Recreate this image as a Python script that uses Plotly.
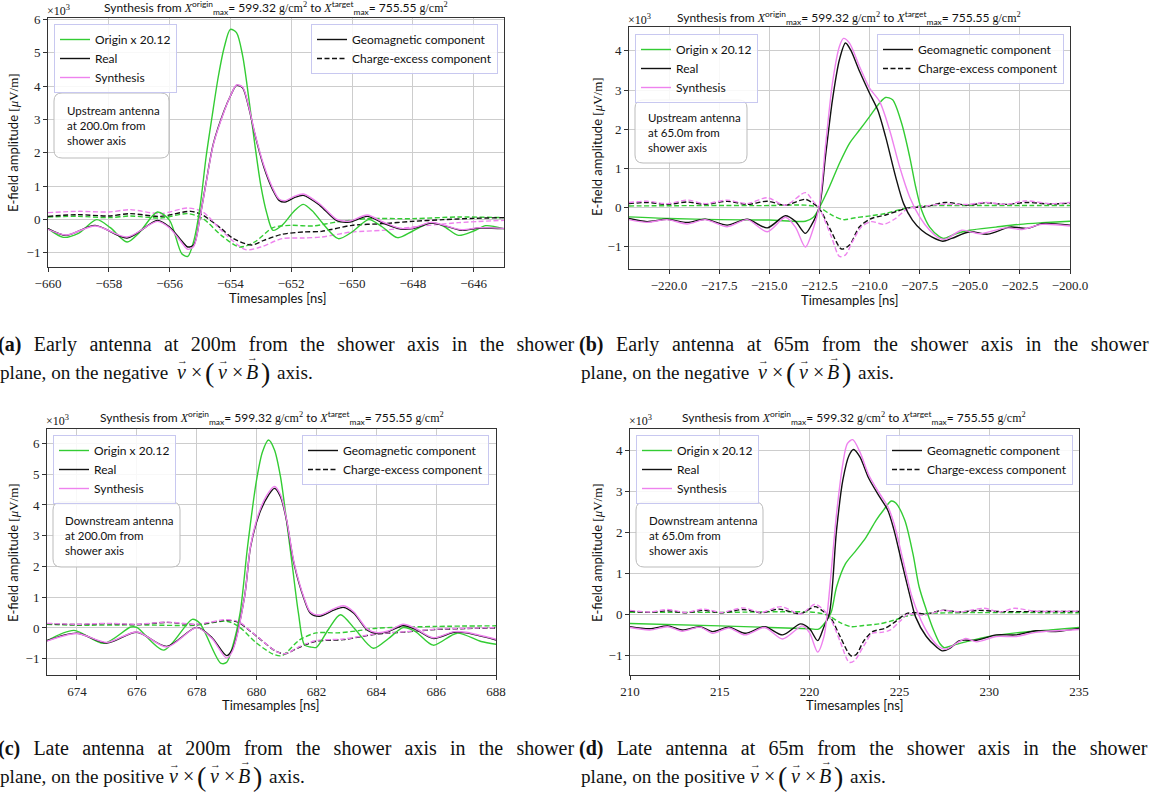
import plotly.graph_objects as go

W, H = 1153, 809

# ---------------- DATA (values in units of 10^3 uV/m, times in ns) ----------------
# Panel (a)
A_T_ORIGIN = [-660, -659.5, -659.0, -658.4, -657.95, -657.4, -657.0, -656.4, -656.0, -655.6, -655.4, -655.2, -655.0,
              -654.8, -654.6, -654.4, -654.2, -654.0, -653.8, -653.6, -653.4, -653.2, -653.0, -652.8, -652.6, -652.3,
              -651.9, -651.6, -651.3, -651.0, -650.45, -650.0, -649.45, -649.0, -648.5, -648.0, -647.4, -647.0,
              -646.5, -646.0, -645.6, -645.0]
A_V_ORIGIN = [-0.28, -0.54, -0.42, -0.01, -0.25, -0.68, -0.40, 0.22, -0.03, -1.03, -1.11, -0.63, 0.37,
              1.87, 3.1, 4.27, 5.17, 5.70, 5.60, 4.92, 3.67, 2.27, 1.02, 0.17, -0.33, -0.18,
              0.25, 0.45, 0.25, -0.08, -0.58, -0.38, -0.01, -0.23, -0.55, -0.35, -0.10, -0.20,
              -0.48, -0.35, -0.19, -0.28]
A_T_REAL = [-660, -659.4, -658.45, -657.4, -656.4, -656.0, -655.6, -655.4, -655.2, -655.0, -654.8, -654.56, -654.2,
            -654.0, -653.8, -653.6, -653.4, -653.2, -652.9, -652.6, -652.4, -652.2, -651.9, -651.6, -651.06, -650.5,
            -650.07, -649.5, -648.98, -648.4, -648.0, -647.4, -647.0, -646.4, -645.8, -645.0]
A_V_REAL = [-0.28, -0.48, -0.18, -0.56, -0.03, -0.23, -0.65, -0.83, -0.76, 0.07, 1.10, 2.27, 3.27,
            3.70, 4.02, 3.95, 3.37, 2.57, 1.57, 0.87, 0.57, 0.52, 0.65, 0.72, 0.42, -0.04,
            -0.08, 0.09, -0.11, -0.29, -0.28, -0.11, -0.18, -0.33, -0.26, -0.28]
A_V_SYNTH = [-0.30, -0.47, -0.20, -0.53, -0.06, -0.26, -0.70, -0.90, -0.80, 0.05, 1.08, 2.25, 3.25,
             3.70, 4.03, 3.97, 3.40, 2.60, 1.62, 0.92, 0.61, 0.56, 0.69, 0.76, 0.46, 0.00,
             -0.05, 0.13, -0.08, -0.27, -0.26, -0.09, -0.17, -0.31, -0.25, -0.27]
A_T_GEO_CE = [-660, -659, -658, -657.3, -656.3, -655.3, -654.9, -654.3, -653.9, -653.3, -652.9, -652.3, -651.6,
              -651.0, -650.0, -649.0, -648.0, -647.0, -646.0, -645.0]
A_V_REAL_CE = [0.09, 0.14, 0.10, 0.17, 0.09, 0.24, 0.12, -0.28, -0.58, -0.77, -0.63, -0.45, -0.38,
               -0.36, -0.18, -0.13, -0.06, -0.01, 0.03, 0.05]
A_T_ORIGIN_CE = [-660, -659, -658, -657.3, -656.3, -655.4, -654.9, -654.3, -653.7, -653.2, -652.6, -652.0, -651.3,
                 -650.5, -649.5, -648.0, -646.5, -645.0]
A_V_ORIGIN_CE = [0.07, 0.09, 0.05, 0.10, 0.04, 0.17, 0.02, -0.48, -0.83, -0.68, -0.25, -0.18, -0.20,
                 -0.08, 0.02, 0.02, 0.07, 0.05]
A_T_SYNTH_CE = [-660, -659, -658, -657.3, -656.3, -655.4, -654.9, -654.3, -653.5, -653.0, -652.3, -651.6, -651.0,
                -650.0, -649.0, -648.0, -646.5, -645.0]
A_V_SYNTH_CE = [0.20, 0.24, 0.22, 0.29, 0.17, 0.34, 0.22, -0.33, -0.91, -0.83, -0.58, -0.56, -0.53,
                -0.38, -0.33, -0.23, -0.10, -0.03]

# Panel (b)
B_T_ORIGIN = [-222, -220, -217.5, -215, -213.2, -212.8, -212.5, -212.0, -211.5, -211.0, -210.5, -210.0, -209.5,
              -209.2, -208.85, -208.4, -208.0, -207.7, -207.4, -207.0, -206.5, -206.3, -205.7, -205.0, -203.7,
              -202.5, -201.4, -200]
B_V_ORIGIN = [-0.24, -0.28, -0.31, -0.32, -0.35, -0.25, 0.0, 0.53, 1.13, 1.64, 1.98, 2.32, 2.67,
              2.81, 2.75, 2.15, 1.30, 0.53, -0.07, -0.50, -0.75, -0.79, -0.67, -0.58, -0.50,
              -0.43, -0.39, -0.35]
B_T_REAL = [-222, -221.1, -220.1, -219.1, -218.2, -217.1, -216.1, -215.1, -214.2, -213.7, -213.2, -212.9, -212.5,
            -212.2, -211.85, -211.5, -211.2, -210.95, -210.5, -210.0, -209.6, -209.2, -208.7, -208.3, -207.86,
            -207.4, -206.9, -206.35, -205.9, -205.0, -204.1, -203.0, -202.1, -201.4, -200]
B_V_REAL = [-0.28, -0.36, -0.30, -0.38, -0.30, -0.45, -0.30, -0.52, -0.21, -0.35, -0.66, -0.45, 0.02,
            1.30, 2.75, 3.78, 4.20, 4.03, 3.48, 2.92, 2.50, 1.81, 0.79, 0.10, -0.32,
            -0.58, -0.75, -0.86, -0.79, -0.62, -0.68, -0.50, -0.53, -0.41, -0.45]
B_T_SYNTH = [-222, -221.1, -220.1, -219.1, -218.2, -217.1, -216.1, -215.1, -214.2, -213.7, -213.2, -212.8, -212.5,
             -212.2, -211.85, -211.5, -211.3, -211.0, -210.5, -210.0, -209.5, -209.0, -208.5, -208.0, -207.5,
             -207.0, -206.5, -206.2, -205.4, -204.5, -203.2, -202.4, -201.4, -200]
B_V_SYNTH = [-0.31, -0.38, -0.31, -0.42, -0.31, -0.49, -0.31, -0.62, -0.25, -0.50, -1.01, -0.53, 0.06,
             1.56, 3.18, 4.12, 4.32, 4.20, 3.60, 3.05, 2.71, 1.98, 1.04, 0.27, -0.24,
             -0.58, -0.79, -0.81, -0.58, -0.67, -0.52, -0.56, -0.43, -0.47]
B_T_REAL_CE = [-222, -221.1, -220.1, -219.1, -218.2, -217.1, -216.1, -215.1, -214.2, -213.2, -212.8, -212.5, -211.9,
               -211.4, -211.0, -210.5, -209.9, -209.2, -208.6, -208.1, -207.2, -206.2, -205.1, -204.2, -203.2,
               -202.2, -201.0, -200]
B_V_REAL_CE = [0.10, 0.13, 0.08, 0.14, 0.08, 0.16, 0.08, 0.16, 0.06, 0.21, 0.10, -0.03, -0.62,
               -1.06, -0.96, -0.49, -0.28, -0.19, -0.09, -0.01, 0.02, 0.13, 0.06, 0.12, 0.08,
               0.13, 0.09, 0.11]
B_T_SYNTH_CE = [-222, -221.1, -220.1, -219.1, -218.2, -217.1, -216.1, -215.1, -214.2, -213.2, -212.8, -212.5, -211.9,
                -211.5, -211.2, -210.85, -210.4, -209.9, -209.3, -208.7, -208.1, -207.2, -206.5, -205.1, -204.2,
                -203.2, -202.2, -201.0, -200]
B_V_SYNTH_CE = [0.13, 0.16, 0.10, 0.19, 0.10, 0.19, 0.10, 0.25, 0.06, 0.38, 0.15, -0.03, -0.75,
                -1.25, -1.21, -0.87, -0.49, -0.36, -0.43, -0.28, -0.03, 0.04, 0.08, 0.08, 0.13,
                0.08, 0.17, 0.10, 0.13]
B_T_ORIGIN_CE = [-222, -218, -215, -213.2, -212.5, -211.9, -211.3, -210.7, -209.9, -209.2, -208.3, -207.4, -205,
                 -202, -200]
B_V_ORIGIN_CE = [0.04, 0.05, 0.05, 0.06, 0.0, -0.19, -0.31, -0.26, -0.21, -0.15, -0.03, 0.04, 0.05,
                 0.05, 0.05]

# Panel (c)
C_T_ORIGIN = [673, 673.9, 674.9, 675.8, 676.0, 676.9, 677.85, 678.1, 678.8, 679.0, 679.2, 679.45, 679.7, 680.0,
              680.2, 680.4, 680.6, 680.8, 681.0, 681.2, 681.4, 681.6, 681.8, 682.0, 682.4, 682.8, 683.3, 683.9,
              684.4, 684.9, 685.3, 685.9, 686.7, 687.5, 688]
C_V_ORIGIN = [-0.42, -0.08, -0.50, 0.03, 0.02, -0.72, 0.28, 0.16, -1.14, -1.12, -0.60, 0.48, 2.64, 4.81,
              5.73, 6.11, 5.79, 4.92, 3.51, 1.99, 0.48, -0.55, -0.62, -0.63, -0.05, 0.43, -0.05, -0.66,
              -0.35, 0.01, -0.11, -0.56, -0.17, -0.44, -0.53]
C_T_REAL = [673, 674, 675, 676, 677, 678, 678.5, 679.0, 679.2, 679.6, 679.8, 680.1, 680.4, 680.6, 680.8, 681.0,
            681.25, 681.6, 681.8, 682.1, 682.6, 682.9, 683.25, 683.7, 684.0, 684.4, 684.9, 685.3, 685.9, 686.6,
            687.0, 688]
C_V_REAL = [-0.41, -0.17, -0.49, -0.14, -0.60, 0.02, -0.30, -0.90, -0.68, 1.02, 2.64, 3.73, 4.32, 4.54, 4.27, 3.51,
            2.10, 0.91, 0.48, 0.38, 0.59, 0.67, 0.48, -0.07, -0.17, -0.12, 0.08, -0.04, -0.34, -0.14,
            -0.16, -0.39]
C_V_SYNTH = [-0.43, -0.18, -0.47, -0.13, -0.62, 0.01, -0.33, -0.98, -0.74, 1.00, 2.66, 3.80, 4.40, 4.60, 4.33, 3.55,
             2.15, 0.95, 0.52, 0.42, 0.63, 0.72, 0.52, -0.04, -0.15, -0.10, 0.12, -0.01, -0.32, -0.12,
             -0.14, -0.37]
C_T_GEO_CE = [673, 674, 675, 676, 677, 678, 679, 679.4, 680, 680.65, 680.95, 681.45, 682, 682.9, 684, 685, 686,
              687, 688]
C_V_REAL_CE = [0.14, 0.11, 0.14, 0.11, 0.18, 0.11, 0.25, 0.18, -0.27, -0.76, -0.84, -0.62, -0.43, -0.38, -0.20,
               -0.13, -0.05, -0.02, 0.0]
C_V_SYNTH_CE = [0.15, 0.12, 0.15, 0.12, 0.19, 0.12, 0.27, 0.20, -0.26, -0.76, -0.84, -0.60, -0.41, -0.36, -0.19,
                -0.12, -0.04, -0.01, 0.01]
C_T_ORIGIN_CE = [673, 674, 676, 678, 679, 679.4, 680, 680.55, 680.85, 681.45, 682, 682.7, 683.4, 684, 686, 688]
C_V_ORIGIN_CE = [0.12, 0.09, 0.10, 0.09, 0.22, 0.05, -0.49, -0.85, -0.90, -0.38, -0.16, -0.16, -0.09, -0.01,
                 0.05, 0.07]

# Panel (d)
D_T_ORIGIN = [210, 215, 220, 220.5, 220.9, 221.2, 221.5, 222.0, 222.6, 223.15, 223.7, 224.1, 224.55, 224.8, 225.3,
              225.75, 226.1, 226.5, 226.9, 227.25, 227.5, 228.0, 228.7, 230.0, 231.7, 233.4, 235]
D_V_ORIGIN = [-0.22, -0.28, -0.35, -0.36, -0.18, 0.05, 0.67, 1.24, 1.57, 1.89, 2.30, 2.54, 2.77, 2.72, 2.30,
              1.49, 0.67, 0.11, -0.38, -0.71, -0.81, -0.75, -0.67, -0.54, -0.44, -0.38, -0.32]
D_T_REAL = [210, 211.1, 212.1, 212.9, 213.9, 214.6, 215.5, 216.4, 217.5, 218.5, 219.5, 220.0, 220.45, 220.8, 221.1,
            221.5, 221.85, 222.2, 222.45, 222.8, 223.3, 223.9, 224.36, 224.7, 225.1, 225.6, 225.9, 226.5, 227.05,
            227.4, 227.8, 228.35, 229.3, 230.4, 231.5, 232.6, 233.7, 235]
D_V_REAL = [-0.30, -0.35, -0.28, -0.38, -0.30, -0.42, -0.31, -0.46, -0.30, -0.50, -0.23, -0.35, -0.64, -0.30, 0.02,
            2.06, 3.28, 3.89, 4.03, 3.85, 3.32, 2.87, 2.54, 2.06, 1.33, 0.43, -0.06, -0.54, -0.79,
            -0.89, -0.83, -0.64, -0.63, -0.50, -0.50, -0.40, -0.42, -0.34]
D_T_SYNTH = [210, 211.1, 212.1, 212.9, 213.9, 214.6, 215.5, 216.4, 217.5, 218.5, 219.6, 220.0, 220.45, 220.8, 221.0,
             221.5, 221.85, 222.1, 222.4, 222.8, 223.3, 223.9, 224.36, 224.7, 225.2, 225.7, 226.2, 226.7, 227.2,
             227.6, 228.2, 228.7, 229.3, 230.4, 231.5, 232.6, 235]
D_V_SYNTH = [-0.32, -0.38, -0.30, -0.41, -0.31, -0.46, -0.33, -0.50, -0.32, -0.60, -0.28, -0.45, -0.92, -0.54, 0.10,
             2.46, 3.68, 4.17, 4.27, 3.97, 3.40, 2.95, 2.63, 2.22, 1.33, 0.43, -0.14, -0.54, -0.79,
             -0.85, -0.70, -0.59, -0.67, -0.54, -0.54, -0.44, -0.37]
D_T_REAL_CE = [210, 211.1, 212.1, 213.1, 214.1, 215.1, 216.3, 217.3, 218.3, 219.5, 220.3, 220.8, 221.2, 221.7,
               222.3, 222.6, 223.0, 223.5, 224.2, 224.7, 225.4, 225.9, 226.5, 227.4, 228.4, 229.4, 230.6, 232.5, 235]
D_V_REAL_CE = [0.08, 0.05, 0.09, 0.04, 0.10, 0.04, 0.12, 0.04, 0.13, 0.02, 0.19, 0.06, -0.10, -0.54,
               -1.01, -0.98, -0.66, -0.42, -0.34, -0.20, 0.02, 0.04, 0.01, 0.10, 0.06, 0.10, 0.07, 0.07, 0.07]
D_T_SYNTH_CE = [210, 211.1, 212.1, 213.1, 214.1, 215.1, 216.3, 217.3, 218.4, 219.5, 220.3, 220.8, 221.2, 221.7,
                222.2, 222.5, 223.0, 223.5, 224.0, 224.5, 225.0, 225.5, 226.4, 227.4, 228.4, 229.7, 230.6, 231.4,
                232.5, 235]
D_V_SYNTH_CE = [0.10, 0.06, 0.12, 0.05, 0.13, 0.05, 0.16, 0.05, 0.19, 0.01, 0.25, 0.10, -0.14, -0.66,
                -1.17, -1.13, -0.78, -0.46, -0.44, -0.38, -0.18, 0.01, -0.02, 0.10, 0.06, 0.15, 0.06, 0.15,
                0.08, 0.08]
D_T_ORIGIN_CE = [210, 215, 220.3, 221.0, 221.7, 222.3, 223.0, 223.9, 224.7, 225.4, 226.4, 228, 235]
D_V_ORIGIN_CE = [0.05, 0.05, 0.05, -0.02, -0.20, -0.30, -0.27, -0.23, -0.14, -0.04, 0.02, 0.04, 0.04]

# Labels
LEGEND_LEFT = ["Origin x 20.12", "Real", "Synthesis"]
LEGEND_RIGHT = ["Geomagnetic component", "Charge-excess component"]
INFO = ["Upstream antenna<br>at 200.0m from<br>shower axis",
        "Upstream antenna<br>at 65.0m from<br>shower axis",
        "Downstream antenna<br>at 200.0m from<br>shower axis",
        "Downstream antenna<br>at 65.0m from<br>shower axis"]
CAPTIONS = [("(a)", "Early antenna at 200m from the shower axis in the shower", "negative"),
            ("(b)", "Early antenna at 65m from the shower axis in the shower", "negative"),
            ("(c)", "Late antenna at 200m from the shower axis in the shower", "positive"),
            ("(d)", "Late antenna at 65m from the shower axis in the shower", "positive")]

# ---------------- STYLE / LAYOUT ----------------
GREEN = "#33cc33"
BLACK = "#111111"
VIOLET = "#ee82ee"
SANS = "Lato"
SERIF = "Liberation Serif"
DASH = "5px,2.5px"

panels = [
    dict(series=[(A_T_ORIGIN, A_V_ORIGIN, GREEN, "solid"), (A_T_REAL, A_V_REAL, BLACK, "solid"),
                 (A_T_REAL, A_V_SYNTH, VIOLET, "solid"),
                 (A_T_ORIGIN_CE, A_V_ORIGIN_CE, GREEN, DASH), (A_T_GEO_CE, A_V_REAL_CE, BLACK, DASH),
                 (A_T_SYNTH_CE, A_V_SYNTH_CE, VIOLET, DASH)],
         box=(48, 504, 18, 267), xr=[-660, -645], yr=[-1.43, 6.04], tick0=-660, dtick=2, fmt="d",
         yt=list(range(-1, 7)), legL=(54, 24), legR=(498, 24), info=(54, 93, 169, 158), infotxt=(66, 103),
         x10=(46, 10), title=(276, 8), xlab=(277, 298), ylab=(13, 143)),
    dict(series=[(B_T_ORIGIN, B_V_ORIGIN, GREEN, "solid"), (B_T_REAL, B_V_REAL, BLACK, "solid"),
                 (B_T_SYNTH, B_V_SYNTH, VIOLET, "solid"),
                 (B_T_ORIGIN_CE, B_V_ORIGIN_CE, GREEN, DASH), (B_T_REAL_CE, B_V_REAL_CE, BLACK, DASH),
                 (B_T_SYNTH_CE, B_V_SYNTH_CE, VIOLET, DASH)],
         box=(629, 1070, 27, 269), xr=[-222, -200], yr=[-1.57, 4.61], tick0=-220, dtick=2.5, fmt=".1f",
         yt=list(range(-1, 5)), legL=(635, 34), legR=(1064, 34), info=(635, 100, 747, 163), infotxt=(647, 110),
         x10=(627, 20), title=(849, 18), xlab=(849, 300), ylab=(597, 147)),
    dict(series=[(C_T_ORIGIN, C_V_ORIGIN, GREEN, "solid"), (C_T_REAL, C_V_REAL, BLACK, "solid"),
                 (C_T_REAL, C_V_SYNTH, VIOLET, "solid"),
                 (C_T_ORIGIN_CE, C_V_ORIGIN_CE, GREEN, DASH), (C_T_GEO_CE, C_V_REAL_CE, BLACK, DASH),
                 (C_T_GEO_CE, C_V_SYNTH_CE, VIOLET, DASH)],
         box=(47, 496, 429, 675), xr=[673, 688], yr=[-1.53, 6.47], tick0=674, dtick=2, fmt="d",
         yt=list(range(-1, 7)), legL=(53, 435), legR=(489, 435), info=(53, 502, 180, 567), infotxt=(64, 513),
         x10=(45, 420), title=(272, 418), xlab=(270, 705), ylab=(13, 553)),
    dict(series=[(D_T_ORIGIN, D_V_ORIGIN, GREEN, "solid"), (D_T_REAL, D_V_REAL, BLACK, "solid"),
                 (D_T_SYNTH, D_V_SYNTH, VIOLET, "solid"),
                 (D_T_ORIGIN_CE, D_V_ORIGIN_CE, GREEN, DASH), (D_T_REAL_CE, D_V_REAL_CE, BLACK, DASH),
                 (D_T_SYNTH_CE, D_V_SYNTH_CE, VIOLET, DASH)],
         box=(630, 1079, 429, 675), xr=[210, 235], yr=[-1.48, 4.53], tick0=210, dtick=5, fmt="d",
         yt=list(range(-1, 5)), legL=(636, 435), legR=(1073, 435), info=(636, 502, 763, 567), infotxt=(648, 513),
         x10=(628, 420), title=(854, 418), xlab=(854, 705), ylab=(597, 553)),
]


def PX(px):
    return px / W


def PY(py):
    return 1 - py / H


def rrect(x0, y0, x1, y1, r=8):
    return (f"M {PX(x0 + r)},{PY(y0)} L {PX(x1 - r)},{PY(y0)} Q {PX(x1)},{PY(y0)} {PX(x1)},{PY(y0 + r)} "
            f"L {PX(x1)},{PY(y1 - r)} Q {PX(x1)},{PY(y1)} {PX(x1 - r)},{PY(y1)} "
            f"L {PX(x0 + r)},{PY(y1)} Q {PX(x0)},{PY(y1)} {PX(x0)},{PY(y1 - r)} "
            f"L {PX(x0)},{PY(y0 + r)} Q {PX(x0)},{PY(y0)} {PX(x0 + r)},{PY(y0)} Z")


SER = "<span style='font-family:Liberation Serif'>"
TITLE = ("Synthesis from " + SER + "<i>X</i></span><sup>origin</sup><sub>max</sub>= 599.32 " + SER +
         "g/cm<sup>2</sup></span> to " + SER + "<i>X</i></span><sup>target</sup><sub>max</sub>= 755.55 " + SER +
         "g/cm<sup>2</sup></span>")

fig = go.Figure()
annotations = []
shapes = []
layout = dict(template="none", width=W, height=H,
              margin=dict(l=0, r=0, t=0, b=0, pad=0, autoexpand=False),
              paper_bgcolor="white", plot_bgcolor="white", showlegend=True)


def ann(text, px, py, size, family=SANS, xanchor="left", yanchor="middle", **kw):
    d = dict(text=text, x=PX(px), y=PY(py), xref="paper", yref="paper", xanchor=xanchor, yanchor=yanchor,
             showarrow=False, font=dict(family=family, size=size, color="#111111"), borderpad=0)
    d.update(kw)
    annotations.append(d)


for i, p in enumerate(panels):
    n = i + 1
    xa = "x" if n == 1 else f"x{n}"
    ya = "y" if n == 1 else f"y{n}"
    legL = "legend" if n == 1 else f"legend{2 * n - 1}"
    legR = f"legend{2 * n}"
    order = [3, 4, 5, 0, 1, 2]
    for k in order:
        t, v, col, dash = p["series"][k]
        fig.add_trace(go.Scatter(x=t, y=v, mode="lines", xaxis=xa, yaxis=ya, showlegend=False,
                                 line=dict(color=col, width=1.4, dash=dash, shape="spline", smoothing=0.8),
                                 hoverinfo="skip"))
    for name, col in zip(LEGEND_LEFT, [GREEN, BLACK, VIOLET]):
        fig.add_trace(go.Scatter(x=[None], y=[None], mode="lines", xaxis=xa, yaxis=ya, name=name,
                                 legend=legL, line=dict(color=col, width=1.4)))
    for name, dash in zip(LEGEND_RIGHT, ["solid", DASH]):
        fig.add_trace(go.Scatter(x=[None], y=[None], mode="lines", xaxis=xa, yaxis=ya, name=name,
                                 legend=legR, line=dict(color=BLACK, width=1.4, dash=dash)))

    x0, x1, y0, y1 = p["box"]
    axis_common = dict(showline=True, mirror=True, linecolor="#333333", linewidth=1, ticks="outside",
                       ticklen=4, tickcolor="#333333", showgrid=True, gridcolor="#cdcdcd", gridwidth=1,
                       zeroline=False, automargin=False,
                       tickfont=dict(family=SERIF, size=13, color="#222222"))
    layout["xaxis" if n == 1 else f"xaxis{n}"] = dict(
        axis_common, domain=[PX(x0), PX(x1)], range=p["xr"], anchor=ya, tickmode="linear",
        tick0=p["tick0"], dtick=p["dtick"], tickformat=p["fmt"])
    layout["yaxis" if n == 1 else f"yaxis{n}"] = dict(
        axis_common, domain=[PY(y1), PY(y0)], range=p["yr"], anchor=xa, tickmode="array",
        tickvals=p["yt"], ticktext=[str(v) if v >= 0 else "\u2212" + str(-v) for v in p["yt"]])

    leg_common = dict(bgcolor="rgba(255,255,255,0.85)", bordercolor="#c8c8f0", borderwidth=1,
                      font=dict(family=SANS, size=12, color="#111111"), itemwidth=30, tracegroupgap=0,
                      xref="paper", yref="paper", yanchor="top", traceorder="normal")
    layout[legL] = dict(leg_common, x=PX(p["legL"][0]), y=PY(p["legL"][1]), xanchor="left")
    layout[legR] = dict(leg_common, x=PX(p["legR"][0]), y=PY(p["legR"][1]), xanchor="right")

    bx0, by0, bx1, by1 = p["info"]
    shapes.append(dict(type="path", xref="paper", yref="paper", path=rrect(bx0, by0, bx1, by1),
                       line=dict(color="#bbbbbb", width=1), fillcolor="rgba(255,255,255,0.85)", layer="above"))
    ann(INFO[i], p["infotxt"][0], p["infotxt"][1], 11.5, yanchor="top", align="left")
    ann(SER + "×10<sup>3</sup></span>", p["x10"][0], p["x10"][1], 12, family=SERIF)
    ann(TITLE, p["title"][0], p["title"][1], 12, xanchor="center")
    ann("Timesamples [ns]", p["xlab"][0], p["xlab"][1], 13, xanchor="center")
    ann("E-field amplitude " + SER + "[<i>μ</i>V/m]</span>", p["ylab"][0], p["ylab"][1], 13,
        xanchor="center", textangle=-90)

# Captions (first line justified by wider word spacing, second line with vector math)
cap_pos = [(-3, 344), (578, 344), (-3, 748), (578, 748)]
word_gap = [7.4, 7.6, 8.2, 8.2]
MATH = [("<i>v</i>", 184, True), ("×", 199, False), ("(", 212, False), ("<i>v</i>", 225, True),
        ("×", 240, False), ("<i>B</i>", 255, True), (")", 268, False)]
for (lab, line1, sign), (cx, cy), gap in zip(CAPTIONS, cap_pos, word_gap):
    ann(f"<span style='word-spacing:{gap}px'><b>{lab}</b> {line1}</span>", cx, cy, 20, family=SERIF)
    ly = cy + 28
    shift = 0 if sign == "negative" else -8
    ann(f"plane, on the {sign}", cx + 2, ly, 19.2, family=SERIF)
    for g, dx, arrow in MATH:
        size = 28 if g in ("(", ")") else 20
        ann(g, cx + dx + shift, ly, size, family=SERIF, xanchor="center")
        if arrow:
            up = 15 if "B" in g else 12
            ann("→", cx + dx + shift + 1, ly - up, 11, family=SERIF, xanchor="center")
    ann("axis.", cx + 279 + shift, ly, 19.2, family=SERIF)

layout["annotations"] = annotations
layout["shapes"] = shapes
fig.update_layout(**layout)
fig.write_html("out.html", config={"displayModeBar": False},
               post_script="document.body.style.margin='0';document.body.style.overflow='hidden';")
